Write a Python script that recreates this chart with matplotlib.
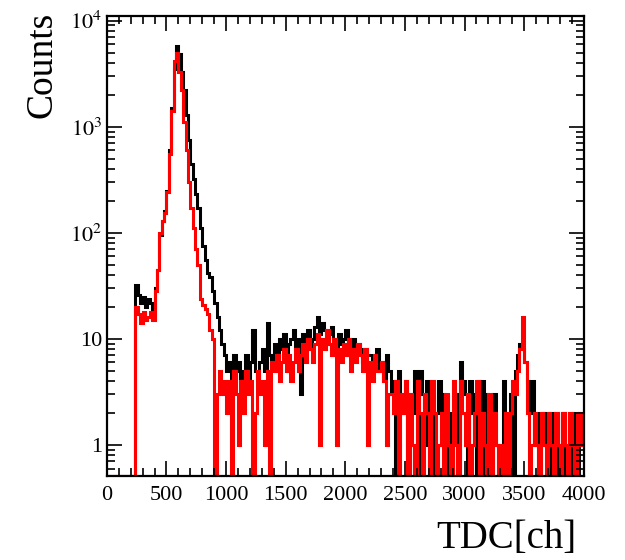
import numpy as np
import matplotlib
matplotlib.use("Agg")
import matplotlib.pyplot as plt
from matplotlib.ticker import FixedLocator, FuncFormatter, MultipleLocator, LogLocator

plt.rcParams['font.family'] = ['Liberation Serif', 'DejaVu Serif']
plt.rcParams['mathtext.fontset'] = 'stix'

# 200 bins of 20 channels, 0..4000
edges = np.arange(0, 4001, 20)

black = [0, 0, 0, 0, 0, 0, 0, 0, 0, 0,
         0, 0, 32, 26, 22, 25, 20, 24, 22, 16,
         30, 45, 95, 130, 160, 250, 600, 1500, 3500, 5800,
         4800, 3300, 2200, 1300, 750, 450, 320, 230, 170, 110,
         75, 55, 42, 38, 28, 22, 16, 12, 9, 7,
         5, 6, 4, 7, 5, 6, 4, 5, 7, 4,
         6, 12, 5, 4, 6, 8, 5, 14, 7, 6,
         9, 7, 10, 8, 11, 6, 9, 10, 12, 8,
         10, 3, 11, 9, 12, 8, 10, 13, 16, 11,
         14, 12, 9, 11, 13, 10, 8, 11, 9, 10,
         12, 9, 8, 10, 7, 9, 8, 6, 8, 7,
         7, 5, 6, 8, 5, 6, 4, 7, 5, 3,
         4, 0, 5, 3, 2, 4, 0, 3, 2, 5,
         0, 5, 3, 1, 4, 0, 3, 0, 2, 4,
         1, 3, 0, 2, 0, 1, 3, 0, 6, 4,
         3, 0, 4, 2, 3, 0, 2, 4, 0, 3,
         2, 0, 3, 1, 0, 0, 4, 1, 0, 3,
         0, 5, 7, 9, 8, 6, 4, 2, 4, 1,
         2, 0, 1, 2, 1, 0, 2, 1, 2, 0,
         1, 2, 0, 1, 0, 2, 1, 0, 2, 1]

red = [0, 0, 0, 0, 0, 0, 0, 0, 0, 0,
       0, 0, 20, 17, 14, 18, 15, 16, 18, 15,
       28, 45, 100, 130, 155, 240, 550, 1400, 4200, 5000,
       3300, 2200, 1100, 600, 300, 170, 110, 70, 50, 24,
       21, 19, 17, 12, 10, 0, 3, 5, 3, 4,
       2, 4, 0, 5, 3, 1, 4, 2, 5, 3,
       4, 0, 2, 5, 3, 4, 1, 5, 0, 6,
       5, 7, 4, 6, 8, 5, 7, 4, 6, 8,
       5, 7, 9, 6, 10, 8, 6, 9, 11, 1,
       10, 8, 12, 9, 7, 10, 1, 8, 6, 9,
       7, 10, 5, 8, 6, 9, 7, 5, 8, 1,
       6, 4, 7, 5, 5, 6, 4, 1, 3, 3,
       2, 4, 0, 3, 2, 4, 0, 3, 1, 0,
       4, 2, 0, 3, 2, 0, 4, 2, 0, 1,
       2, 0, 3, 1, 0, 4, 1, 0, 4, 2,
       1, 3, 0, 1, 2, 4, 0, 2, 1, 0,
       3, 0, 2, 1, 0, 1, 0, 2, 0, 2,
       4, 3, 5, 8, 16, 6, 2, 0, 1, 2,
       1, 0, 2, 1, 0, 2, 1, 0, 2, 1,
       0, 2, 1, 0, 2, 1, 0, 2, 1, 2]

ymin, ymax = 0.51, 1.1e4

fig = plt.figure(figsize=(6.25, 5.6), dpi=100)
ax = fig.add_axes([0.171, 0.15, 0.763, 0.821])

# empty bins drawn at the bottom of the frame, like ROOT
b = np.where(np.array(black) > 0, black, ymin)
r = np.where(np.array(red) > 0, red, ymin)
ax.stairs(b, edges, baseline=None, color='black', lw=2.2)
ax.stairs(r, edges, baseline=None, color='red', lw=2.2)

ax.set_yscale('log')
ax.set_xlim(0, 4000)
ax.set_ylim(ymin, ymax)

ax.xaxis.set_major_locator(MultipleLocator(500))
ax.xaxis.set_minor_locator(MultipleLocator(100))
ax.yaxis.set_major_locator(FixedLocator([1, 10, 100, 1000, 10000]))
ax.yaxis.set_minor_locator(LogLocator(base=10, subs=np.arange(2, 10)))


def yfmt(v, pos):
    if v == 1:
        return '1'
    if v == 10:
        return '10'
    return r'$10^{%d}$' % int(round(np.log10(v)))


ax.yaxis.set_major_formatter(FuncFormatter(yfmt))
ax.yaxis.set_minor_formatter(FuncFormatter(lambda v, p: ''))

ax.tick_params(which='both', direction='in', top=True, right=True, width=1.2, labelsize=16)
ax.tick_params(which='major', length=11)
ax.tick_params(which='minor', length=5.5)
ax.tick_params(axis='x', pad=7)
for s in ax.spines.values():
    s.set_linewidth(1.6)

ax.set_xlabel('TDC[ch]', fontsize=28)
ax.xaxis.set_label_coords(0.985, -0.095)
ax.xaxis.label.set_horizontalalignment('right')
ax.set_ylabel('Counts', fontsize=27)
ax.yaxis.set_label_coords(-0.1, 1.01)
ax.yaxis.label.set_horizontalalignment('right')

fig.savefig('out.png', dpi=100)
